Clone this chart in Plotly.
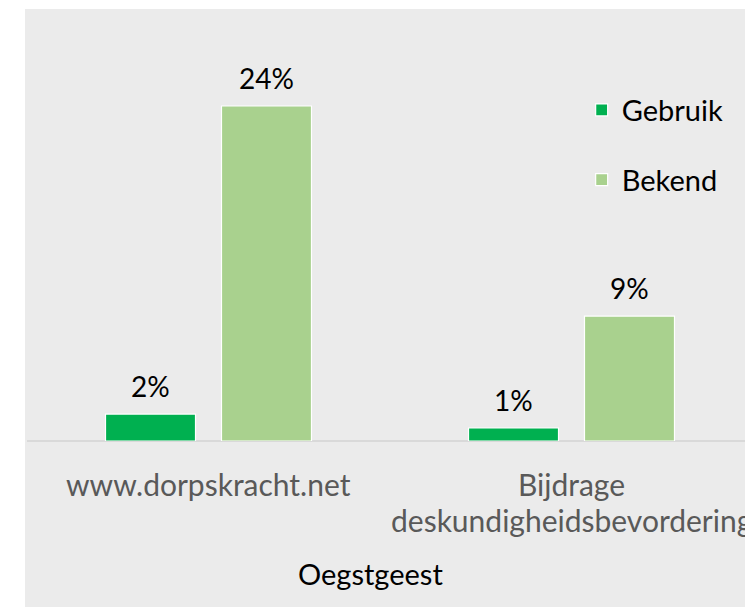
import plotly.graph_objects as go

categories = ["www.dorpskracht.net", "Bijdrage<br>deskundigheidsbevordering"]
cat_lines = [["www.dorpskracht.net"], ["Bijdrage", "deskundigheidsbevordering"]]
gebruik = [1.93, 0.93]
bekend = [24.0, 8.95]
series_names = ["Gebruik", "Bekend"]
axis_title = "Oegstgeest"

FONT = "Lato"
BG = "#EBEBEB"

# the page body adds an 8px margin, so the figure is 8px smaller than the window
W, H = 745, 601
L, T, B = 19, 1, 168
PW, PH = W - L, H - T - B

fig = go.Figure()
fig.add_trace(go.Bar(x=categories, y=gebruik, name=series_names[0], legendgroup="g1",
                     marker=dict(color="#00B050", line=dict(color="white", width=1.2))))
fig.add_trace(go.Bar(x=categories, y=bekend, name=series_names[1], legendgroup="g2",
                     marker=dict(color="#A9D18E", line=dict(color="white", width=1.2))))

ann = []
for vals, xs in ((gebruik, -58), (bekend, 58)):
    for c, v in zip(categories, vals):
        ann.append(dict(x=c, y=v, xref="x", yref="y", text=f"{round(v)}%", showarrow=False,
                        xshift=xs, yshift=28.5, yanchor="middle",
                        font=dict(family=FONT, size=28, color="#000000")))
for c, lines in zip(categories, cat_lines):
    for i, t in enumerate(lines):
        ann.append(dict(x=c, y=0, xref="x", yref="y", text=t, showarrow=False,
                        yshift=-42.5 - 36.5 * i, yanchor="middle",
                        font=dict(family=FONT, size=30, color="#595959")))
ann.append(dict(x=(362 - L) / PW, y=(PH + T - 565) / PH, xref="paper", yref="paper",
                text=axis_title, showarrow=False, yanchor="middle",
                font=dict(family=FONT, size=29, color="#000000")))

fig.update_layout(
    width=W, height=H,
    margin=dict(l=L, r=0, t=T, b=B),
    paper_bgcolor="white", plot_bgcolor=BG,
    barmode="group", bargap=0.361, bargroupgap=0.224,
    showlegend=True,
    legend=dict(x=0.764, y=0.825, xanchor="left", yanchor="top", bgcolor="rgba(0,0,0,0)",
                font=dict(family=FONT, size=29, color="#000000"), tracegroupgap=29,
                itemwidth=30),
    xaxis=dict(showticklabels=False, showgrid=False, showline=False, zeroline=False,
               range=[-0.5, 1.5], fixedrange=True),
    yaxis=dict(range=[0, 30.95], showticklabels=False, showgrid=False, zeroline=True,
               zerolinecolor="#D9D9D9", zerolinewidth=1.5, showline=False),
    annotations=ann,
    shapes=[dict(type="rect", xref="paper", yref="paper", layer="below",
                 x0=-2 / PW, x1=1.01, y0=(PH + T - 599) / PH, y1=1.0,
                 fillcolor=BG, line=dict(width=0))],
)

fig.write_html("out.html")
